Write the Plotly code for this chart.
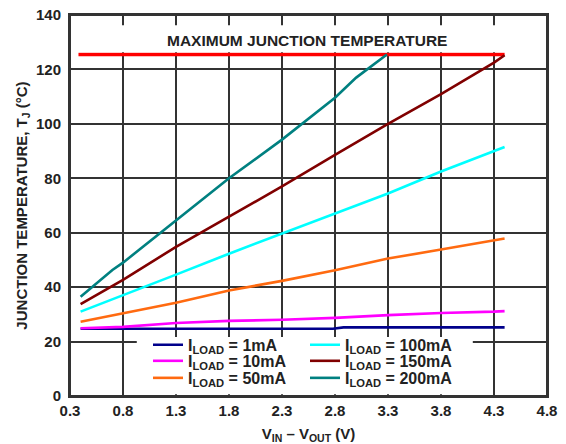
import plotly.graph_objects as go

# ---- data ----
v_common = [0.4, 0.8, 1.3, 1.8, 2.3, 2.8, 3.3, 3.8, 4.3, 4.4]
t_10ma = [24.9, 25.4, 26.8, 27.6, 28.0, 28.7, 29.7, 30.5, 31.0, 31.2]
t_50ma = [27.3, 30.5, 34.3, 38.8, 42.3, 46.2, 50.5, 53.8, 57.3, 57.9]
t_100ma = [31.0, 37.0, 44.6, 52.3, 59.7, 67.0, 74.4, 82.5, 89.9, 91.5]
t_150ma = [33.8, 42.7, 54.8, 65.8, 77.0, 88.6, 100.0, 110.9, 122.5, 125.2]

v_1ma = [0.4, 1.3, 2.3, 2.78, 2.88, 3.8, 4.4]
t_1ma = [24.7, 24.7, 24.7, 24.7, 25.2, 25.2, 25.2]

v_200ma = [0.4, 0.7, 0.8, 1.3, 1.8, 2.3, 2.8, 3.0, 3.29]
t_200ma = [36.5, 46.3, 49.0, 64.6, 80.0, 94.2, 109.6, 117.0, 125.5]

v_max = [0.38, 4.4]
t_max = [125.5, 125.5]

x_ticks = [0.3, 0.8, 1.3, 1.8, 2.3, 2.8, 3.3, 3.8, 4.3, 4.8]
y_ticks = [0, 20, 40, 60, 80, 100, 120, 140]

FONT = "Liberation Sans, Arial, Helvetica, sans-serif"
TXT = "#222222"

series = [
    ("1mA", v_1ma, t_1ma, "#00008b", "legend"),
    ("10mA", v_common, t_10ma, "#ff00ff", "legend2"),
    ("50mA", v_common, t_50ma, "#ff6a10", "legend3"),
    ("100mA", v_common, t_100ma, "#00ffff", "legend"),
    ("150mA", v_common, t_150ma, "#800000", "legend2"),
    ("200mA", v_200ma, t_200ma, "#008080", "legend3"),
]

fig = go.Figure()

fig.add_trace(go.Scatter(x=v_max, y=t_max, mode="lines",
                         line=dict(color="#ff0000", width=3.5),
                         showlegend=False, hoverinfo="skip"))

for name, xs, ys, col, lg in series:
    fig.add_trace(go.Scatter(
        x=xs, y=ys, mode="lines",
        name="I<sub>LOAD</sub> = " + name,
        line=dict(color=col, width=2.6),
        legend=lg,
    ))

# white background behind the legend and the title text
fig.add_shape(type="rect", xref="x", yref="y", x0=0.93, x1=4.10, y0=0.6, y1=21.7,
              fillcolor="white", line=dict(width=0), layer="above")
fig.add_shape(type="rect", xref="x", yref="y", x0=0.34, x1=4.76, y0=126.3, y1=136.2,
              fillcolor="white", line=dict(width=0), layer="above")
# plot frame
fig.add_shape(type="rect", xref="paper", yref="paper", x0=0, x1=1, y0=0, y1=1,
              fillcolor="rgba(0,0,0,0)", line=dict(color="#333333", width=2),
              layer="above")

fig.add_annotation(x=2.54, y=130.6, xref="x", yref="y", showarrow=False,
                   text="MAXIMUM JUNCTION TEMPERATURE",
                   font=dict(family=FONT, size=15.5, color=TXT, weight="bold"))

legend_common = dict(
    orientation="h", xanchor="left", yanchor="middle",
    bgcolor="rgba(0,0,0,0)", borderwidth=0,
    font=dict(family=FONT, size=16, color=TXT, weight="bold"),
    entrywidth=112, entrywidthmode="pixels",
    itemclick=False, itemdoubleclick=False,
)
lx = (148 - 70) / 477
fig.update_layout(
    legend=dict(x=lx, y=(396 - 345) / 380, **legend_common),
    legend2=dict(x=lx, y=(396 - 361) / 380, **legend_common),
    legend3=dict(x=lx, y=(396 - 378) / 380, **legend_common),
)

axis_common = dict(
    showgrid=True, gridcolor="#333333", gridwidth=1.6,
    showline=True, linecolor="#333333", linewidth=2, mirror=True,
    ticks="", zeroline=False, automargin=False,
    ticklabeloverflow="allow",
    tickfont=dict(family=FONT, size=15, color=TXT, weight="bold"),
)

fig.update_xaxes(range=[0.3, 4.8], tickvals=x_ticks,
                 ticktext=[f"{v:.1f}" for v in x_ticks],
                 title=dict(text="V<sub>IN</sub> – V<sub>OUT</sub> (V)", standoff=15,
                            font=dict(family=FONT, size=15, color=TXT, weight="bold")),
                 **axis_common)
fig.update_yaxes(range=[0, 140], tickvals=y_ticks,
                 ticklabelstandoff=4,
                 title=dict(text="JUNCTION TEMPERATURE, T<sub>J</sub> (°C)", standoff=5,
                            font=dict(family=FONT, size=15, color=TXT, weight="bold")),
                 **axis_common)

# page body has an 8px margin; figure sized so it ends at the window edge
fig.update_layout(
    width=558, height=436,
    margin=dict(l=62, r=19, t=7, b=48, autoexpand=False),
    paper_bgcolor="white", plot_bgcolor="white",
    font=dict(family=FONT, color=TXT),
)

fig.write_html("out.html")
